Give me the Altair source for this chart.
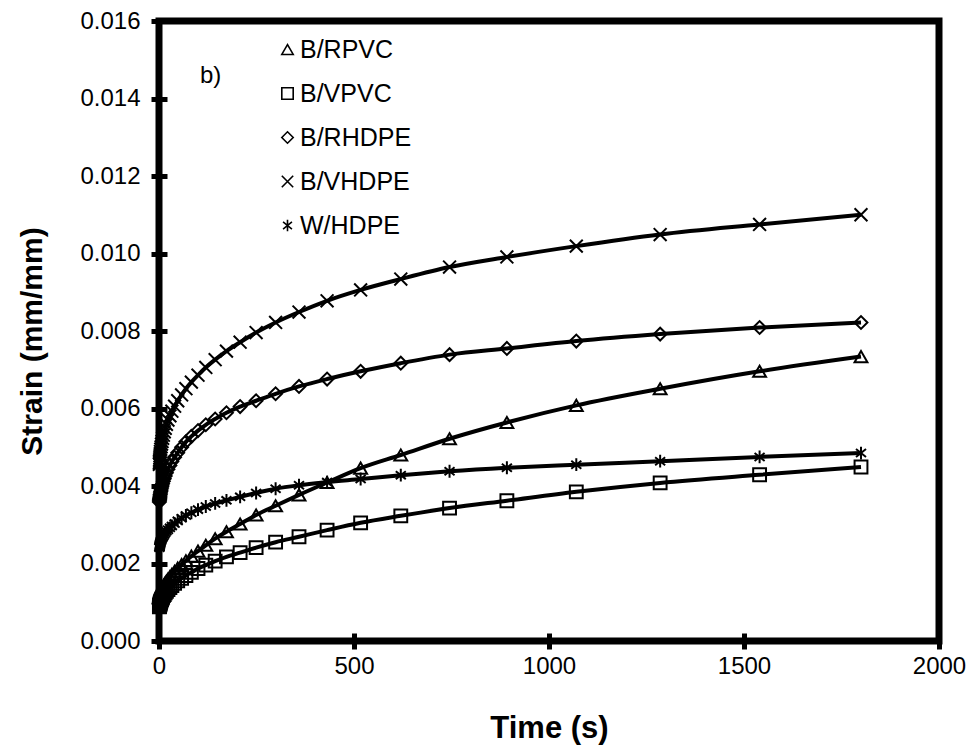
import altair as alt
import pandas as pd

times = [1800, 1540, 1285, 1070, 892, 745, 620, 517, 431, 359, 299, 249, 208, 173, 144,
         120, 100, 83, 69, 58, 48, 40, 33, 28, 23, 19, 16, 13.5, 11.2, 9.3, 7.8, 6.5,
         5.4, 4.5, 3.7, 3.1, 2.6, 2.2, 1.8, 1.5, 1.2, 1.0]

b_rpvc = [0.00734, 0.00696, 0.00651, 0.00608, 0.00564, 0.00522, 0.00480, 0.00446, 0.00409,
          0.00377, 0.00349, 0.00325, 0.00302, 0.00282, 0.00264, 0.00247, 0.00232, 0.00219,
          0.00207, 0.00197, 0.00188, 0.00180, 0.00172, 0.00166, 0.00160, 0.00155, 0.00150,
          0.00146, 0.00142, 0.00138, 0.00135, 0.00132, 0.00129, 0.00126, 0.00124, 0.00122,
          0.00120, 0.00118, 0.00116, 0.00114, 0.00113, 0.00111]

b_vpvc = [0.00449, 0.00429, 0.00408, 0.00385, 0.00362, 0.00343, 0.00323, 0.00305, 0.00286,
          0.00269, 0.00255, 0.00241, 0.00228, 0.00217, 0.00206, 0.00196, 0.00187, 0.00177,
          0.00169, 0.00162, 0.00155, 0.00149, 0.00143, 0.00138, 0.00133, 0.00128, 0.00124,
          0.00120, 0.00117, 0.00113, 0.00110, 0.00107, 0.00105, 0.00102, 0.00100, 0.00098,
          0.00096, 0.00094, 0.00092, 0.00091, 0.00089, 0.00088]

b_rhdpe = [0.00822, 0.00809, 0.00792, 0.00774, 0.00755, 0.00739, 0.00717, 0.00696, 0.00676,
           0.00657, 0.00638, 0.00620, 0.00605, 0.00589, 0.00573, 0.00558, 0.00543, 0.00528,
           0.00514, 0.00500, 0.00486, 0.00474, 0.00463, 0.00453, 0.00443, 0.00434, 0.00426,
           0.00419, 0.00412, 0.00406, 0.00400, 0.00395, 0.00390, 0.00386, 0.00382, 0.00378,
           0.00374, 0.00371, 0.00368, 0.00365, 0.00362, 0.00359]

b_vhdpe = [0.01100, 0.01075, 0.01049, 0.01019, 0.00991, 0.00965, 0.00934, 0.00906, 0.00878,
           0.00849, 0.00822, 0.00796, 0.00771, 0.00748, 0.00726, 0.00706, 0.00686, 0.00668,
           0.00651, 0.00635, 0.00620, 0.00606, 0.00593, 0.00581, 0.00570, 0.00559, 0.00549,
           0.00540, 0.00531, 0.00523, 0.00515, 0.00508, 0.00501, 0.00495, 0.00489, 0.00483,
           0.00478, 0.00473, 0.00468, 0.00464, 0.00460, 0.00456]

w_hdpe = [0.00485, 0.00475, 0.00464, 0.00455, 0.00447, 0.00438, 0.00428, 0.00418, 0.00410,
          0.00402, 0.00393, 0.00382, 0.00372, 0.00363, 0.00355, 0.00347, 0.00339, 0.00331,
          0.00324, 0.00317, 0.00310, 0.00303, 0.00297, 0.00292, 0.00287, 0.00283, 0.00279,
          0.00275, 0.00271, 0.00268, 0.00265, 0.00262, 0.00259, 0.00257, 0.00254, 0.00252,
          0.00250, 0.00248, 0.00246, 0.00244, 0.00242, 0.00241]

series_names = ["B/RPVC", "B/VPVC", "B/RHDPE", "B/VHDPE", "W/HDPE"]
series_values = [b_rpvc, b_vpvc, b_rhdpe, b_vhdpe, w_hdpe]
shapes = ["triangle-up", "square", "diamond",
          "M-1,-1L1,1M-1,1L1,-1",
          "M0,-1L0,1M-0.78,-0.62L0.78,0.62M-0.78,0.62L0.78,-0.62"]

x_ticks = [0, 500, 1000, 1500, 2000]
y_ticks = [0.0, 0.002, 0.004, 0.006, 0.008, 0.010, 0.012, 0.014, 0.016]

rows = []
for name, vals in zip(series_names, series_values):
    for t, v in zip(times, vals):
        rows.append({"Series": name, "Time": t, "Strain": v})
df = pd.DataFrame(rows)

FONT = "Liberation Sans"

x_enc = alt.X("Time:Q",
              scale=alt.Scale(domain=[0, 2000], nice=False, zero=False),
              axis=alt.Axis(values=x_ticks, format="d", title="Time (s)", offset=-8,
                            tickSize=16, tickWidth=5, tickColor="black", domain=False,
                            grid=False, labelFontSize=24, labelFont=FONT, labelColor="black",
                            labelPadding=5, labelFlush=False,
                            titleFontSize=31, titleFont=FONT, titleFontWeight="bold",
                            titleColor="black", titleBaseline="alphabetic", titleY=104))
y_enc = alt.Y("Strain:Q",
              scale=alt.Scale(domain=[0, 0.016], nice=False),
              axis=alt.Axis(values=y_ticks, format=".3f", title="Strain (mm/mm)", offset=-8,
                            tickSize=16, tickWidth=5, tickColor="black", domain=False,
                            grid=False, labelFontSize=24, labelFont=FONT, labelColor="black",
                            labelPadding=11, labelFlush=False,
                            titleFontSize=30, titleFont=FONT, titleFontWeight="bold",
                            titleColor="black", titleBaseline="alphabetic", titleX=-126,
                            titleY=320))

base = alt.Chart(df)

points = base.mark_point(filled=False, color="black", strokeWidth=2, size=165,
                         opacity=1).encode(
    x=x_enc, y=y_enc,
    shape=alt.Shape("Series:N",
                    scale=alt.Scale(domain=series_names, range=shapes),
                    sort=series_names,
                    legend=alt.Legend(title=None, orient="none", legendX=116, legendY=16,
                                      labelFontSize=25, labelFont=FONT, labelColor="black",
                                      symbolSize=130, symbolStrokeWidth=1.6,
                                      symbolStrokeColor="black",
                                      symbolFillColor="transparent",
                                      rowPadding=18, padding=0, labelOffset=0)),
)

lines = base.mark_line(color="black", strokeWidth=4, interpolate="monotone").encode(
    x=x_enc, y=y_enc, detail="Series:N", order="Time:Q"
)

frame_df = pd.DataFrame({"k": [1]})
frame = alt.Chart(frame_df).mark_rect(fill="transparent", stroke="black",
                                      strokeWidth=7, strokeOpacity=1).encode(
    x=alt.value(0), x2=alt.value(780), y=alt.value(0), y2=alt.value(620)
)

label_df = pd.DataFrame({"txt": ["b)"]})
label = alt.Chart(label_df).mark_text(align="left", baseline="alphabetic", fontSize=24,
                                      font=FONT, color="black").encode(
    x=alt.value(41), y=alt.value(62), text="txt:N"
)

chart = alt.layer(frame, points, lines, label).properties(
    width=780, height=620,
    padding={"left": 159, "top": 21, "right": 41, "bottom": 111},
    autosize=alt.AutoSizeParams(type="none"),
    background="white",
).configure_view(stroke=None)

chart.save("out.html", embed_options={"renderer": "svg", "actions": False})
